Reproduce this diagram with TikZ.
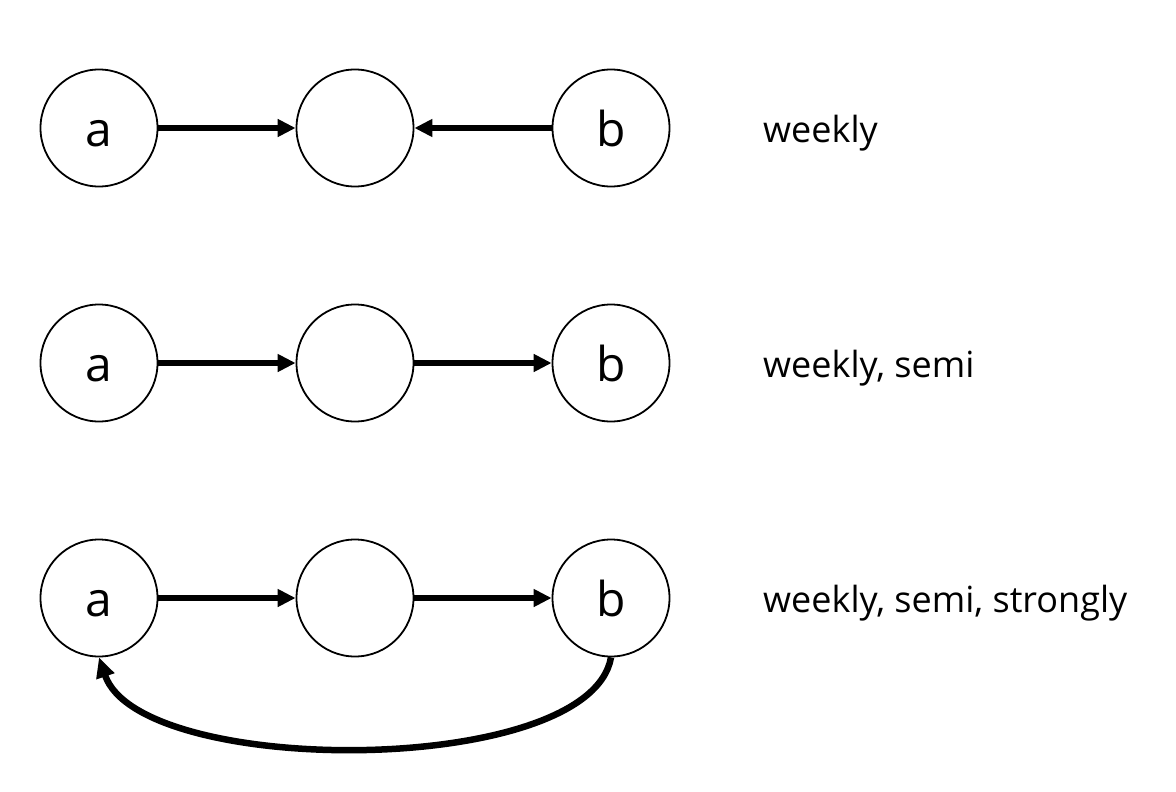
\documentclass[tikz,border=0pt]{standalone}
\usepackage{fontspec}
\setmainfont{Open Sans}
\usetikzlibrary{arrows.meta}
\begin{document}
\begin{tikzpicture}[x=1pt,y=-1pt,
  vtx/.style={circle,draw,line width=1.8pt,minimum size=117pt,inner sep=0pt,text height=36pt,text depth=0pt,font=\fontsize{48}{56}\selectfont},
  edge/.style={line width=5.5pt,-{Triangle[length=18pt,width=17pt]}},
  lbl/.style={anchor=base west,inner sep=0pt,font=\fontsize{36}{43}\selectfont}]
\useasboundingbox (0,0) rectangle (1176,792);
\node[vtx] (a1) at (99,128) {a};
\node[vtx] (m1) at (355,128) {};
\node[vtx] (b1) at (611,128) {b};
\draw[edge] (a1) -- (m1);
\draw[edge] (b1) -- (m1);
\node[lbl] (t1) at (763,142) {weekly};
\node[vtx] (a2) at (99,363) {a};
\node[vtx] (m2) at (355,363) {};
\node[vtx] (b2) at (611,363) {b};
\draw[edge] (a2) -- (m2);
\draw[edge] (m2) -- (b2);
\node[lbl] (t2) at (763,377) {weekly, semi};
\node[vtx] (a3) at (99,598) {a};
\node[vtx] (m3) at (355,598) {};
\node[vtx] (b3) at (611,598) {b};
\draw[edge] (a3) -- (m3);
\draw[edge] (m3) -- (b3);
\draw[line width=6.5pt,-{Triangle[length=20pt,width=18pt]}] (b3.south) .. controls (590,778) and (140,778) .. (a3.south);
\node[lbl] (t3) at (763,612) {weekly, semi, strongly};
\end{tikzpicture}
\end{document}
